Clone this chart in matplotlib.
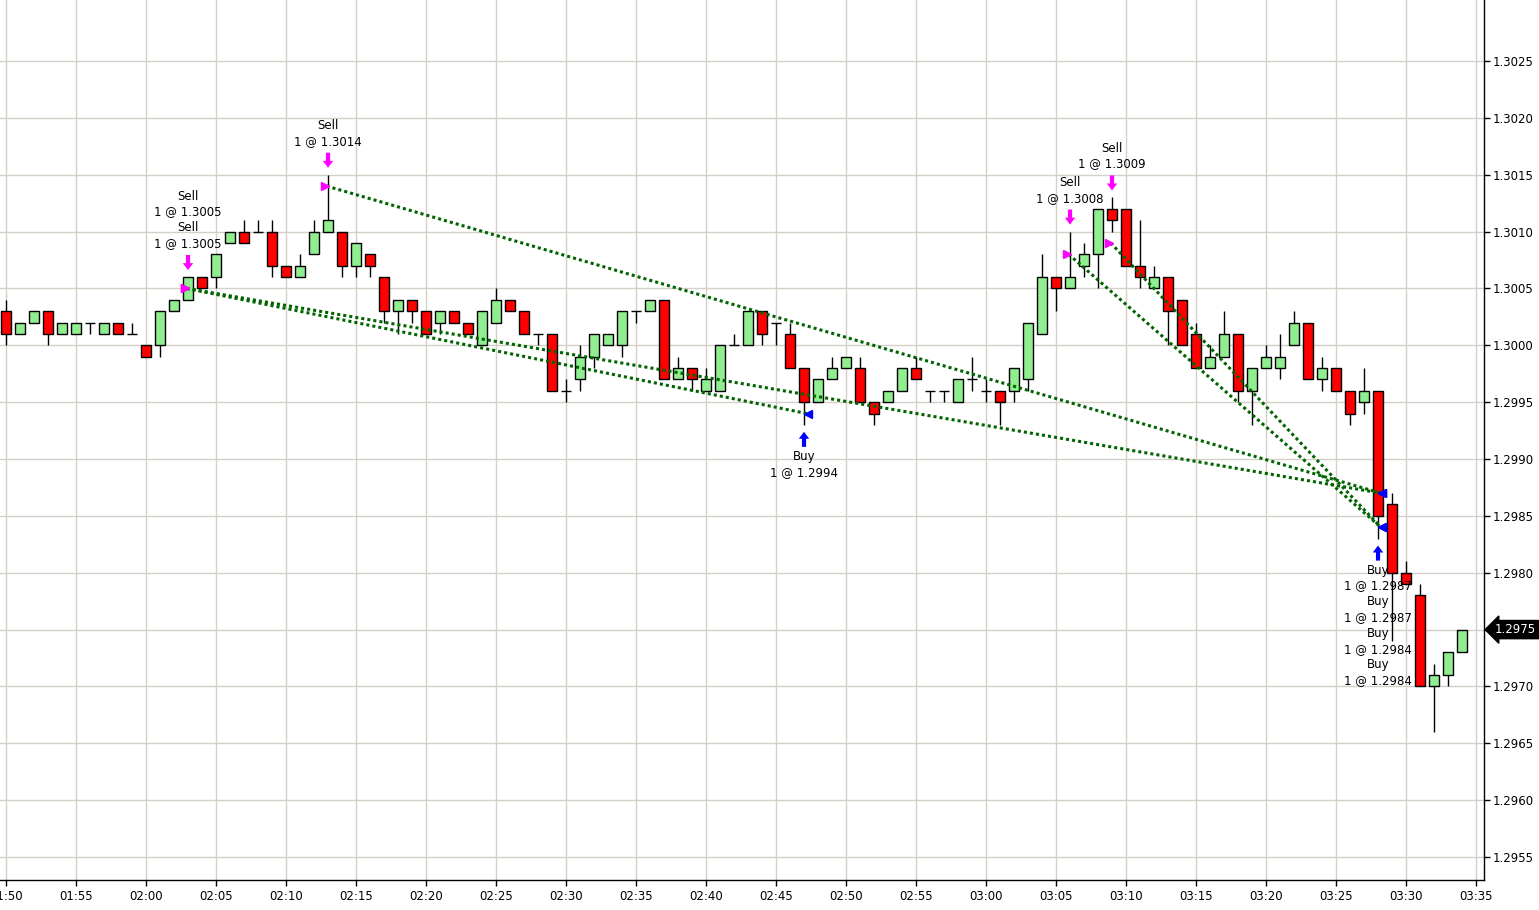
import matplotlib
matplotlib.use("Agg")
import matplotlib.pyplot as plt
import numpy as np

plt.rcParams['font.family'] = ['DejaVu Sans']

# ---- data (1-minute bars, 01:50 .. 03:34) ----
opens = [1.3003, 1.3001, 1.3002, 1.3003, 1.3001, 1.3001, 1.3002, 1.3001, 1.3002, 1.3001,
         1.3000, 1.3000, 1.3003, 1.3004, 1.3006, 1.3006, 1.3009, 1.3010, 1.3010, 1.3010,
         1.3007, 1.3006, 1.3008, 1.3010, 1.3010, 1.3007, 1.3008, 1.3006, 1.3003, 1.3004,
         1.3003, 1.3002, 1.3003, 1.3002, 1.3000, 1.3002, 1.3004, 1.3003, 1.3001, 1.3001,
         1.2996, 1.2997, 1.2999, 1.3000, 1.3000, 1.3003, 1.3003, 1.3004, 1.2997, 1.2998,
         1.2996, 1.2996, 1.3000, 1.3000, 1.3003, 1.3002, 1.3001, 1.2998, 1.2995, 1.2997,
         1.2998, 1.2998, 1.2995, 1.2995, 1.2996, 1.2998, 1.2996, 1.2996, 1.2995, 1.2997,
         1.2996, 1.2996, 1.2996, 1.2997, 1.3001, 1.3006, 1.3005, 1.3007, 1.3008, 1.3012,
         1.3012, 1.3007, 1.3005, 1.3006, 1.3004, 1.3001, 1.2998, 1.2999, 1.3001, 1.2996,
         1.2998, 1.2998, 1.3000, 1.3002, 1.2997, 1.2998, 1.2996, 1.2995, 1.2996, 1.2986,
         1.2980, 1.2978, 1.2970, 1.2971, 1.2973]
highs = [1.3004, 1.3002, 1.3003, 1.3003, 1.3002, 1.3002, 1.3002, 1.3002, 1.3002, 1.3002,
         1.3000, 1.3003, 1.3004, 1.3006, 1.3006, 1.3008, 1.3010, 1.3011, 1.3011, 1.3011,
         1.3007, 1.3008, 1.3011, 1.3015, 1.3010, 1.3009, 1.3008, 1.3006, 1.3004, 1.3004,
         1.3003, 1.3003, 1.3003, 1.3002, 1.3003, 1.3005, 1.3004, 1.3003, 1.3001, 1.3001,
         1.2997, 1.3000, 1.3001, 1.3001, 1.3003, 1.3003, 1.3004, 1.3004, 1.2999, 1.2998,
         1.2998, 1.3000, 1.3001, 1.3003, 1.3003, 1.3002, 1.3002, 1.2998, 1.2997, 1.2999,
         1.2999, 1.2999, 1.2995, 1.2996, 1.2998, 1.2999, 1.2996, 1.2996, 1.2997, 1.2999,
         1.2997, 1.2996, 1.2998, 1.3002, 1.3008, 1.3006, 1.3010, 1.3009, 1.3012, 1.3013,
         1.3012, 1.3011, 1.3007, 1.3006, 1.3004, 1.3002, 1.3000, 1.3003, 1.3001, 1.2998,
         1.3000, 1.3001, 1.3003, 1.3002, 1.2999, 1.2998, 1.2996, 1.2998, 1.2996, 1.2987,
         1.2981, 1.2979, 1.2972, 1.2973, 1.2975]
lows = [1.3000, 1.3001, 1.3002, 1.3000, 1.3001, 1.3001, 1.3001, 1.3001, 1.3001, 1.3001,
        1.2999, 1.2999, 1.3003, 1.3004, 1.3005, 1.3005, 1.3009, 1.3009, 1.3010, 1.3006,
        1.3006, 1.3006, 1.3008, 1.3010, 1.3006, 1.3006, 1.3006, 1.3002, 1.3001, 1.3002,
        1.3001, 1.3001, 1.3002, 1.3001, 1.3000, 1.3002, 1.3003, 1.3001, 1.3000, 1.2996,
        1.2995, 1.2996, 1.2998, 1.3000, 1.2999, 1.3002, 1.3003, 1.2997, 1.2997, 1.2996,
        1.2996, 1.2996, 1.3000, 1.3000, 1.3000, 1.3000, 1.2998, 1.2993, 1.2995, 1.2997,
        1.2998, 1.2995, 1.2993, 1.2995, 1.2996, 1.2997, 1.2995, 1.2995, 1.2995, 1.2996,
        1.2995, 1.2993, 1.2995, 1.2996, 1.3001, 1.3003, 1.3005, 1.3006, 1.3005, 1.3010,
        1.3007, 1.3005, 1.3005, 1.3000, 1.3000, 1.2998, 1.2998, 1.2999, 1.2995, 1.2993,
        1.2998, 1.2997, 1.3000, 1.2997, 1.2996, 1.2996, 1.2993, 1.2994, 1.2983, 1.2974,
        1.2979, 1.2970, 1.2966, 1.2970, 1.2973]
closes = [1.3001, 1.3002, 1.3003, 1.3001, 1.3002, 1.3002, 1.3002, 1.3002, 1.3001, 1.3001,
          1.2999, 1.3003, 1.3004, 1.3006, 1.3005, 1.3008, 1.3010, 1.3009, 1.3010, 1.3007,
          1.3006, 1.3007, 1.3010, 1.3011, 1.3007, 1.3009, 1.3007, 1.3003, 1.3004, 1.3003,
          1.3001, 1.3003, 1.3002, 1.3001, 1.3003, 1.3004, 1.3003, 1.3001, 1.3001, 1.2996,
          1.2996, 1.2999, 1.3001, 1.3001, 1.3003, 1.3003, 1.3004, 1.2997, 1.2998, 1.2997,
          1.2997, 1.3000, 1.3000, 1.3003, 1.3001, 1.3002, 1.2998, 1.2995, 1.2997, 1.2998,
          1.2999, 1.2995, 1.2994, 1.2996, 1.2998, 1.2997, 1.2996, 1.2996, 1.2997, 1.2997,
          1.2996, 1.2995, 1.2998, 1.3002, 1.3006, 1.3005, 1.3006, 1.3008, 1.3012, 1.3011,
          1.3007, 1.3006, 1.3006, 1.3003, 1.3000, 1.2998, 1.2999, 1.3001, 1.2996, 1.2998,
          1.2999, 1.2999, 1.3002, 1.2997, 1.2998, 1.2996, 1.2994, 1.2996, 1.2985, 1.2980,
          1.2979, 1.2970, 1.2971, 1.2973, 1.2975]

time_labels = ['01:50', '01:55', '02:00', '02:05', '02:10', '02:15', '02:20', '02:25',
               '02:30', '02:35', '02:40', '02:45', '02:50', '02:55', '03:00', '03:05',
               '03:10', '03:15', '03:20', '03:25', '03:30', '03:35']
label_step = 5  # bars between time labels

price_ticks = [1.2955, 1.2960, 1.2965, 1.2970, 1.2975, 1.2980, 1.2985, 1.2990, 1.2995,
               1.3000, 1.3005, 1.3010, 1.3015, 1.3020, 1.3025]

# trades: each sell is closed by the buy at the same list position
sell_bars = [13, 13, 23, 76, 79]
sell_prices = [1.3005, 1.3005, 1.3014, 1.3008, 1.3009]
buy_bars = [57, 98, 98, 98, 98]
buy_prices = [1.2994, 1.2987, 1.2987, 1.2984, 1.2984]
last_price = 1.2975

# ---- figure ----
W, H = 1539, 910
fig = plt.figure(figsize=(W / 100, H / 100), dpi=100)
ax = fig.add_axes([0, 30 / H, 1484 / W, 880 / H])

n = len(opens)
x = np.arange(n)
o = np.array(opens); h = np.array(highs); l = np.array(lows); c = np.array(closes)

FS = 8.5
grid_c = '#d4d0c8'
ax.set_xlim(-0.43, 105.57)
ax.set_ylim(1.295298, 1.303036)
ax.set_xticks(np.arange(len(time_labels)) * label_step)
ax.set_xticklabels(time_labels)
ax.set_yticks(price_ticks)
# the 1.2975 label sits under the last-price tag
ax.set_yticklabels(['' if abs(p - last_price) < 1e-7 else f'{p:.4f}' for p in price_ticks])
ax.yaxis.tick_right()
ax.grid(True, color=grid_c, linewidth=1)
ax.set_axisbelow(True)
for s in ['top', 'left']:
    ax.spines[s].set_visible(False)
for s in ['right', 'bottom']:
    ax.spines[s].set_color('black')
    ax.spines[s].set_linewidth(1)
ax.tick_params(axis='both', direction='out', length=4, width=1, labelsize=FS, colors='black')
ax.tick_params(axis='x', pad=3)
ax.tick_params(axis='y', pad=2)

# candles
bw = 0.66
ax.vlines(x, l, h, color='black', linewidth=1, zorder=2)
body_lo = np.minimum(o, c)
body_h = np.abs(c - o)
up = c > o
dn = c < o
ax.bar(x[up], body_h[up], bottom=body_lo[up], width=bw, color='#90ee90',
       edgecolor='black', linewidth=1, zorder=3)
ax.bar(x[dn], body_h[dn], bottom=body_lo[dn], width=bw, color='#ff0000',
       edgecolor='black', linewidth=1, zorder=3)
doji = c == o
ax.hlines(o[doji], x[doji] - bw / 2, x[doji] + bw / 2, color='black', linewidth=1, zorder=3)

# trade lines
line_c = '#006400'
for sb, sp, bb, bp in zip(sell_bars, sell_prices, buy_bars, buy_prices):
    ax.plot([sb - 0.1, bb + 0.2], [sp, bp], linestyle=(0, (1, 1)), linewidth=2.2,
            color=line_c, zorder=4, dash_capstyle='butt')
ax.plot(np.array(sell_bars) - 0.22, sell_prices, linestyle='none', marker='>',
        markersize=6, color='#ff00ff', zorder=5)
ax.plot(np.array(buy_bars) + 0.28, buy_prices, linestyle='none', marker='<',
        markersize=6, color='#0000ff', zorder=5)

# annotations
arrow_kw = dict(arrowstyle='simple,head_length=0.5,head_width=0.75,tail_width=0.3',
                mutation_scale=10, shrinkA=0, shrinkB=5, linewidth=0)

def group(bars, prices, word):
    g = {}
    for b, p in zip(bars, prices):
        g.setdefault(b, []).append(f'{word}\n1 @ {p:.4f}')
    return g

for b, items in group(sell_bars, sell_prices, 'Sell').items():
    top = h[b]
    ax.annotate('', xy=(b, top), xycoords='data', xytext=(0, 22), textcoords='offset pixels',
                arrowprops=dict(color='#ff00ff', **arrow_kw), zorder=6)
    ax.annotate('\n'.join(items), xy=(b, top), xycoords='data', xytext=(0, 27),
                textcoords='offset pixels', ha='center', va='bottom', fontsize=FS,
                linespacing=1.28, zorder=6)

for b, items in group(buy_bars, buy_prices, 'Buy').items():
    bot = l[b]
    ax.annotate('', xy=(b, bot), xycoords='data', xytext=(0, -22), textcoords='offset pixels',
                arrowprops=dict(color='#0000ff', **arrow_kw), zorder=6)
    ax.annotate('\n'.join(items), xy=(b, bot), xycoords='data', xytext=(0, -25),
                textcoords='offset pixels', ha='center', va='top', fontsize=FS,
                linespacing=1.28, zorder=6)

# last price tag
ax.annotate(f'{last_price:.4f}', xy=(1, last_price), xycoords=('axes fraction', 'data'),
            xytext=(11, 0), textcoords='offset pixels', ha='left', va='center',
            fontsize=FS, color='white', annotation_clip=False, zorder=10,
            bbox=dict(boxstyle='larrow,pad=0.22', fc='black', ec='black'))

fig.savefig('out.png', dpi=100, facecolor='white')
